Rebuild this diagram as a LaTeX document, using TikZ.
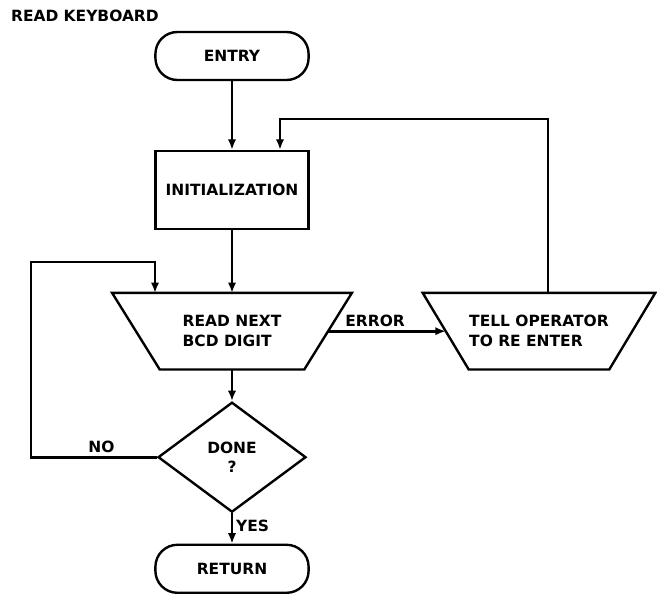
\documentclass[tikz,border=0pt]{standalone}
\usepackage{fontspec}
\setmainfont{DejaVu Sans}
\usetikzlibrary{arrows.meta,positioning,shapes.geometric}

\begin{document}
\begin{tikzpicture}[
  terminal/.style={rectangle, rounded corners=0.55cm, draw, line width=1.7pt, minimum width=3.83cm, minimum height=1.2cm, font=\fontsize{11}{13}\selectfont\bfseries},
  process/.style={rectangle, draw, line width=1.7pt, minimum width=3.83cm, minimum height=1.95cm, font=\fontsize{11}{13}\selectfont\bfseries},
  io/.style={rectangle, inner sep=0pt, minimum height=1.9cm, align=left, font=\fontsize{11}{14}\selectfont\bfseries},
  frame/.style={draw, line width=1.7pt, line join=miter},
  decision/.style={diamond, draw, line width=1.7pt, minimum width=3.7cm, minimum height=2.75cm, inner sep=0pt, align=center, font=\fontsize{11}{14}\selectfont\bfseries},
  tag/.style={rectangle, draw=none, fill=none, inner sep=2pt, font=\fontsize{11}{13}\selectfont\bfseries},
  flow/.style={draw, line width=2pt, -{Latex[length=2.6mm,width=2.1mm]}}
]
  \useasboundingbox (0,0) rectangle (16.425,-14.85);

  \node[tag, anchor=west] (title) at (0.2,-0.4) {READ KEYBOARD};

  \node[terminal] (entry) at (5.8,-1.4) {ENTRY};
  \node[process] (init) at (5.8,-4.75) {INITIALIZATION};
  \node[io, minimum width=3.6cm] (read) at (5.8,-8.28) {READ NEXT\\BCD DIGIT};
  \node[io, minimum width=3.5cm] (tell) at (13.475,-8.28) {TELL OPERATOR\\TO RE ENTER};
  \node[decision] (done) at (5.8,-11.43) {DONE\\?};
  \node[terminal] (return) at (5.8,-14.22) {RETURN};

  % Input/output outlines
  \draw[frame] (read.south west) -- (read.south east) -- ([xshift=1.19cm]read.north east)
    -- ([xshift=-1.19cm]read.north west) -- cycle;
  \draw[frame] (tell.south west) -- (tell.south east) -- ([xshift=1.15cm]tell.north east)
    -- ([xshift=-1.15cm]tell.north west) -- cycle;

  % Main line
  \draw[flow] (entry) -- (init);
  \draw[flow] (init) -- (read);
  \draw[flow] (read) -- (done);
  \draw[flow] (done) -- node[tag, right, pos=0.4] {YES} (return);

  % Error branch
  \draw[flow] ([xshift=0.595cm]read.east) -- node[tag, above, pos=0.4] {ERROR} ([xshift=-0.575cm]tell.west);

  % Loops back
  \coordinate (retry) at (7.0,-2.975);
  \draw[flow] ([xshift=0.225cm]tell.north) |- (retry) -- (retry |- init.north);

  \coordinate (again) at (0.775,-6.55);
  \coordinate (againin) at (3.875,-6.55);
  \draw[flow] (done.west) -- node[tag, above, pos=0.44] {NO} (done.west -| again) -- (again) -- (againin) -- (againin |- read.north);
\end{tikzpicture}
\end{document}
